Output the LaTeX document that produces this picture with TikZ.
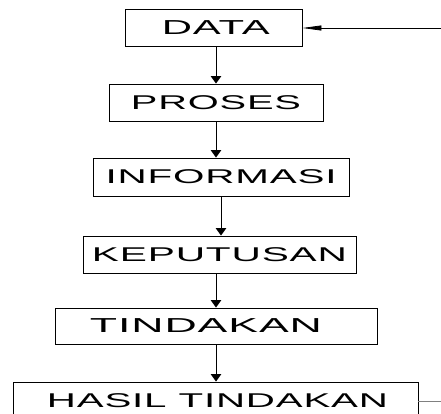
\documentclass[tikz,border=0pt]{standalone}
\usepackage{fontspec}
\usepackage{graphicx}
\newfontfamily\boxfnt[LetterSpace=2]{Liberation Sans}
\usetikzlibrary{arrows.meta}
\newcommand\boxtext[3]{\hspace*{#2pt}\resizebox{#1pt}{13.9pt}{\boxfnt #3}}
\begin{document}
\begin{tikzpicture}[x=1pt,y=1pt,
  box/.style={draw, line width=0.9pt, inner sep=0pt, minimum height=37pt, anchor=center},
  arr/.style={-{Triangle[length=7.5pt,width=10.5pt]}, line width=1pt}]
\useasboundingbox (0,0) rectangle (441,-414);
\node[box, minimum width=177pt] (data) at (213.5,-27.5) {\boxtext{108}{4.6}{DATA}};
\node[box, minimum width=214pt] (proses) at (216,-102.5) {\boxtext{170}{0}{PROSES}};
\node[box, minimum width=256pt, minimum height=38pt] (info) at (221,-177) {\boxtext{231}{0}{INFORMASI}};
\node[box, minimum width=273pt] (kep) at (219.5,-254.5) {\boxtext{255}{0}{KEPUTUSAN}};
\node[box, minimum width=322pt, minimum height=36pt] (tind) at (216,-326) {\boxtext{232}{-20}{TINDAKAN}};
\node[box, minimum width=405pt] (hasil) at (215.5,-400.5) {\boxtext{341}{4}{HASIL TINDAKAN}};
\draw[arr] (data.south -| proses.north) -- (proses.north);
\draw[arr] (proses.south) -- (proses.south |- info.north);
\draw[arr] (info.south) -- (info.south |- kep.north);
\draw[arr] (tind.north |- kep.south) -- (tind.north);
\draw[arr] (tind.south) -- (tind.south |- hasil.north);
\coordinate (inR) at (441,-28);
\draw[line width=0.8pt, -{Triangle[length=19pt,width=5pt]}] (inR) -- (inR -| data.east);
\coordinate (outR) at (441,-401);
\draw[line width=0.6pt, gray] (hasil.east |- outR) -- (outR);
\end{tikzpicture}
\end{document}
